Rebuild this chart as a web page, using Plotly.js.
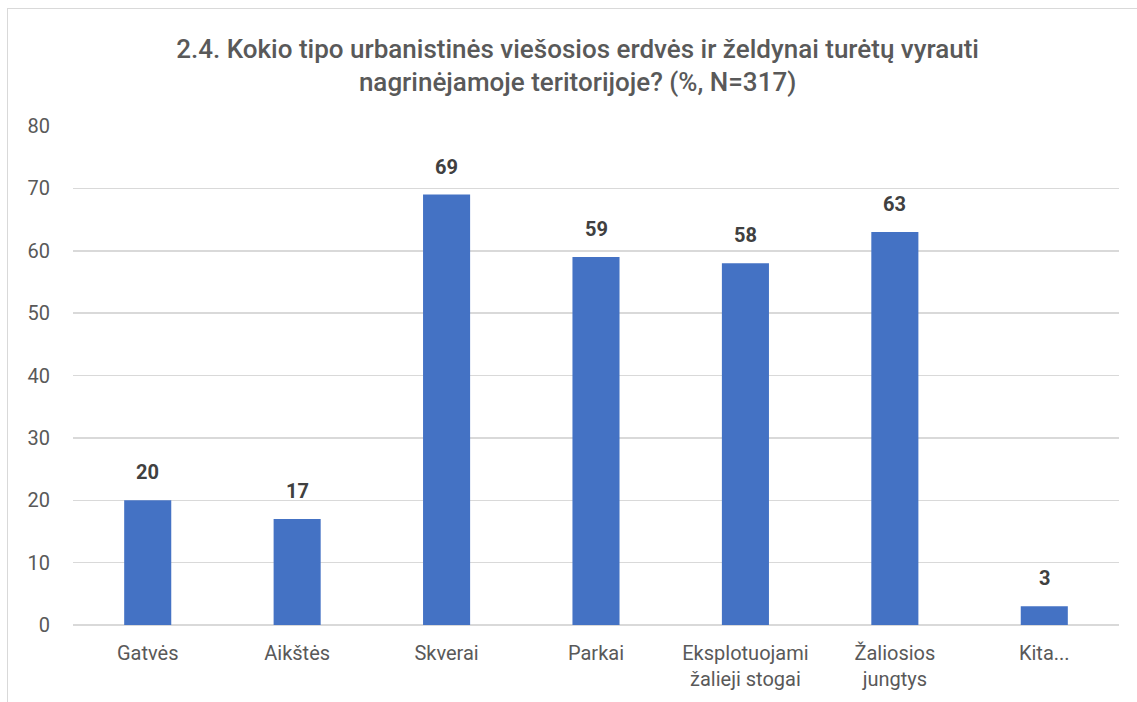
<!DOCTYPE html>
<html><head><meta charset="utf-8">
<script src="https://cdn.plot.ly/plotly-3.0.1.min.js"></script>
<style>
html,body{margin:0;padding:0;background:#fff;overflow:hidden}
#chart{width:1137px;height:702px}
#frame{position:absolute;left:7px;top:8px;width:1140px;height:720px;border:1.5px solid #d9d9d9;pointer-events:none;box-sizing:border-box}
</style></head>
<body>
<div id="chart"></div>
<div id="frame"></div>
<script>
const categories = ["Gatvės","Aikštės","Skverai","Parkai","Eksplotuojami<br>žalieji stogai","Žaliosios<br>jungtys","Kita..."];
const values = [20,17,69,59,58,63,3];
const yTicks = [0,10,20,30,40,50,60,70,80];
const titleText = "2.4. Kokio tipo urbanistinės viešosios erdvės ir želdynai turėtų vyrauti<br>nagrinėjamoje teritorijoje? (%, N=317)";

const font = "Roboto, 'DejaVu Sans', sans-serif";
const trace = {
  type: "bar",
  x: categories,
  y: values,
  marker: {color: "#4472C4", line: {color: "#4472C4", width: 0}},
  width: 0.315,
  hoverinfo: "skip"
};
const annotations = values.map((v, i) => ({
  x: categories[i], y: v, text: "<b>" + v + "</b>",
  showarrow: false, yanchor: "bottom", yshift: 14,
  font: {family: font, size: 20, color: "#404040"}
}));
const layout = {
  width: 1137, height: 702,
  margin: {l: 73, r: 18, t: 126, b: 77},
  paper_bgcolor: "#fff", plot_bgcolor: "#fff",
  font: {family: font, color: "#595959"},
  title: {text: titleText, x: 0.508, xanchor: "center", y: 0.918, yanchor: "middle", yref: "container",
          font: {family: font, size: 26, weight: 500, color: "#595959"}},
  xaxis: {type: "category", tickfont: {size: 20, color: "#595959"}, showgrid: false, showline: false, ticks: "",
          ticklabelstandoff: 14, fixedrange: true},
  yaxis: {range: [0, 80], tickvals: yTicks, ticktext: yTicks.map(String), showgrid: true, gridcolor: "#d9d9d9", gridwidth: 1.5,
          zeroline: true, zerolinecolor: "#d9d9d9", zerolinewidth: 1.5, showline: false, ticks: "",
          tickfont: {size: 20, color: "#595959"}, ticklabelstandoff: 22, fixedrange: true},
  annotations: annotations,
  showlegend: false
};
Plotly.newPlot("chart", [trace], layout, {displayModeBar: false, staticPlot: true});
</script>
</body></html>
